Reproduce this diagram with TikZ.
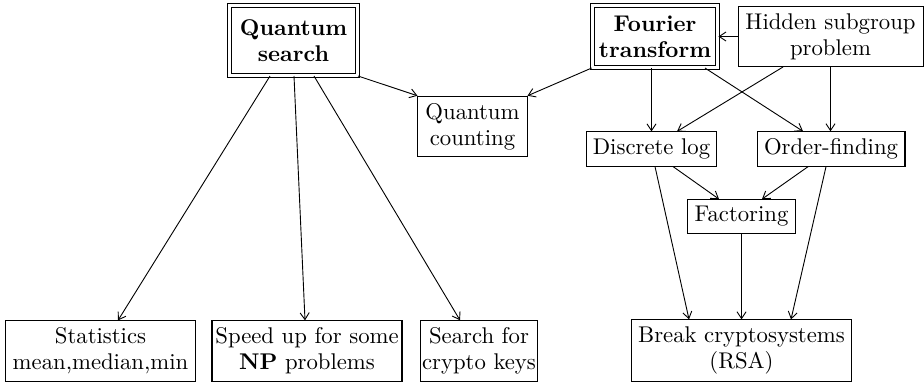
\documentclass[tikz,border=0pt]{standalone}
\usetikzlibrary{arrows.meta,calc}
\begin{document}
\begin{tikzpicture}[x=0.44pt,y=-0.44pt,
  box/.style={draw,line width=0.45pt,align=center,inner sep=3pt,font=\fontsize{10}{11.5}\selectfont},
  dbox/.style={box,double,double distance=1.4pt,font=\bfseries\fontsize{10}{11.5}\selectfont},
  arr/.style={draw,line width=0.4pt,-{Straight Barb[length=3pt,width=4pt]}},
  ]
\useasboundingbox (0,0) rectangle (924,383);
% nodes
\node[dbox,minimum width=56.3pt,minimum height=30.8pt] (qs) at (293.5,40.5) {Quantum\\search};
\node[dbox,minimum width=55pt,minimum height=27.3pt] (ft) at (655,36.5) {Fourier\\transform};
\node[box,minimum width=81.4pt,minimum height=26pt] (hs) at (830.5,36.5) {Hidden subgroup\\problem};
\node[box,minimum width=48pt,minimum height=26pt] (qc) at (472.5,126.5) {Quantum\\counting};
\node[box,minimum width=57.6pt,minimum height=14.1pt] (dl) at (651.5,149) {Discrete log};
\node[box,minimum width=65.1pt,minimum height=14.1pt] (of) at (831,149) {Order-finding};
\node[box,minimum width=47.1pt,minimum height=14.5pt] (fa) at (741.5,216.5) {Factoring};
\node[box,inner xsep=0.8pt,minimum width=83.2pt,minimum height=25.5pt] (st) at (100.5,351) {Statistics\\mean,median,min};
\node[box,inner xsep=1pt,minimum width=83.6pt,minimum height=25.5pt] (sp) at (307,351) {Speed up for some\\\textbf{NP} problems};
\node[box,inner xsep=0.8pt,minimum width=51.9pt,minimum height=25.5pt] (se) at (479,351) {Search for\\crypto keys};
\node[box,minimum width=97.2pt,minimum height=26.8pt] (br) at (741.5,350.5) {Break cryptosystems\\(RSA)};
% connectors
\draw[arr] ($(qs.south)+(-23.5,0)$) -- ($(st.north)+(17.5,0)$);
\draw[arr] ($(qs.south)+(0.5,0)$) -- ($(sp.north)+(-2,0)$);
\draw[arr] ($(qs.south)+(20.5,0)$) -- ($(se.north)+(-19,0)$);
\draw[arr] (qs.south east) -- (qc.north west);
\draw[arr] (ft.south west) -- (qc.north east);
\draw[arr] (hs.west) -- (ft.east);
\draw[arr] (ft.south -| dl.north) -- (dl.north);
\draw[arr] ($(ft.south)+(50,0)$) -- ($(of.north)+(-28,0)$);
\draw[arr] ($(hs.south)+(-47.5,0)$) -- ($(dl.north)+(25.5,0)$);
\draw[arr] (hs.south) -- (hs.south |- of.north);
\draw[arr] ($(dl.south)+(21.5,0)$) -- ($(fa.north)+(-22.5,0)$);
\draw[arr] ($(of.south)+(-23,0)$) -- ($(fa.north)+(20.5,0)$);
\draw[arr] ($(dl.south)+(3.5,0)$) -- ($(br.north)+(-52.5,0)$);
\draw[arr] (fa.south) -- (br.north);
\draw[arr] ($(of.south)+(-5,0)$) -- ($(br.north)+(49.5,0)$);
\end{tikzpicture}
\end{document}
